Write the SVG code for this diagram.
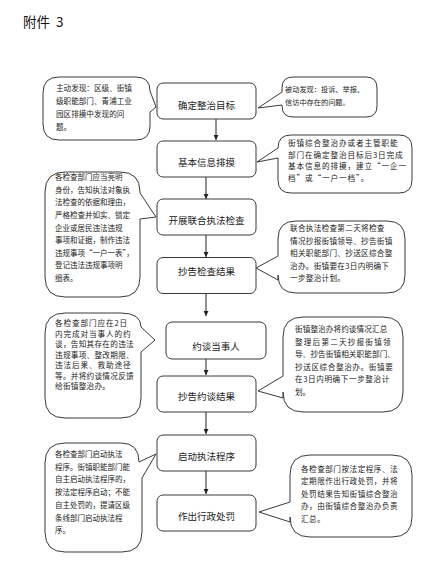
<svg xmlns="http://www.w3.org/2000/svg" width="442" height="580" viewBox="0 0 442 580">
<style>
.bg{fill:#fff}
.box{fill:#fff;stroke:#3a3a3a;stroke-width:1}
.bub{fill:#fff;stroke:#3a3a3a;stroke-width:1;stroke-linejoin:round}
.bt{font-family:"Noto Sans CJK SC","Liberation Sans",sans-serif;font-size:9.5px;fill:#222;text-anchor:middle}
.t{font-family:"Noto Sans CJK SC","Liberation Sans",sans-serif;font-size:7.6px;fill:#222}
.con{stroke:#222;stroke-width:1;fill:none;marker-end:url(#ah)}
.title{font-family:"Noto Sans CJK SC","Liberation Sans",sans-serif;font-size:13.5px;fill:#111}
</style>
<defs>
<marker id="ah" viewBox="0 0 8 8" refX="8" refY="4" markerWidth="5" markerHeight="5" orient="auto" markerUnits="userSpaceOnUse">
<path d="M0,0 L8,4 L0,8 Z" fill="#222"/>
</marker>
</defs>
<rect class="bg" x="0" y="0" width="442" height="580"/>
<text class="title" x="23" y="27">附件 <tspan dx="3">3</tspan></text>

<g id="connectors">
<line class="con" x1="216" y1="119" x2="216" y2="140"/>
<line class="con" x1="206" y1="177" x2="206" y2="199"/>
<line class="con" x1="206" y1="235" x2="206" y2="257"/>
<line class="con" x1="206" y1="293" x2="206" y2="316"/>
<line class="con" x1="206" y1="359" x2="206" y2="375"/>
<line class="con" x1="206" y1="412" x2="206" y2="434"/>
<line class="con" x1="206" y1="471" x2="206" y2="494"/>
</g>

<g id="n1"><rect class="box" x="157" y="83" width="99" height="36" rx="6"/><text class="bt" x="206.5" y="108.5">确定整治目标</text></g>
<g id="n2"><rect class="box" x="157" y="141" width="99" height="36" rx="6"/><text class="bt" x="206.5" y="165.5">基本信息排摸</text></g>
<g id="n3"><rect class="box" x="157" y="199" width="99" height="36" rx="6"/><text class="bt" x="206.5" y="224">开展联合执法检查</text></g>
<g id="n4"><rect class="box" x="157" y="257.5" width="99" height="36" rx="6"/><text class="bt" x="206.5" y="275">抄告检查结果</text></g>
<g id="n5"><rect class="box" x="166" y="322" width="100" height="37" rx="6"/><text class="bt" x="216" y="349.5">约谈当事人</text></g>
<g id="n6"><rect class="box" x="157" y="376" width="99" height="36" rx="6"/><text class="bt" x="206.5" y="400">抄告约谈结果</text></g>
<g id="n7"><rect class="box" x="157" y="435" width="99" height="36" rx="6"/><text class="bt" x="206.5" y="460">启动执法程序</text></g>
<g id="n8"><rect class="box" x="157" y="495" width="99" height="36" rx="6"/><text class="bt" x="206.5" y="519.5">作出行政处罚</text></g>

<g id="c1">
<path class="bub" d="M59,77 H136 Q150,77 150,91 L156,107 L150,112 V126 Q150,140 136,140 H59 Q43,140 43,124 V93 Q43,77 59,77 Z"/>
<text class="t" x="56" y="91">主动发现：区级、街镇</text>
<text class="t" x="56" y="104">级职能部门、青浦工业</text>
<text class="t" x="56" y="117">园区排摸中发现的问</text>
<text class="t" x="56" y="129.5">题。</text>
</g>
<g id="c2">
<path class="bub" d="M293,77 H366 Q377,77 377,88 V106 Q377,117 366,117 H293 Q282,117 282,106 V105 L258,108 L282,92 V88 Q282,77 293,77 Z"/>
<text class="t" x="285" y="91.5" style="font-size:7.2px">被动发现：投诉、举报、</text>
<text class="t" x="285" y="104.5" style="font-size:7.2px">信访中存在的问题。</text>
</g>
<g id="c3">
<path class="bub" d="M291,135 H399 Q412,135 412,148 V180 Q412,193 399,193 H291 Q278,193 278,180 V158 L257,162 L278,148 Q278,135 291,135 Z"/>
<text class="t" x="288" y="146" style="letter-spacing:0.9px">街镇综合整治办或者主管职能</text>
<text class="t" x="288" y="157.5" style="letter-spacing:0.9px">部门在确定整治目标后3日完成</text>
<text class="t" x="288" y="169" style="letter-spacing:0.9px">基本信息的排摸，建立“一企一</text>
<text class="t" x="288" y="180.5" style="letter-spacing:0.9px">档”或“一户一档”。</text>
</g>
<g id="c4">
<path class="bub" d="M296,221 H387 Q405,221 405,239 V275 Q405,293 387,293 H296 Q278,293 278,275 V280 L256,268 L278,256 V239 Q278,221 296,221 Z"/>
<text class="t" x="290" y="231" style="letter-spacing:0.3px">联合执法检查第二天将检查</text>
<text class="t" x="290" y="243.5" style="letter-spacing:0.3px">情况抄报街镇领导、抄告街镇</text>
<text class="t" x="290" y="256" style="letter-spacing:0.3px">相关职能部门、抄送区综合整</text>
<text class="t" x="290" y="268.5" style="letter-spacing:0.3px">治办。街镇要在3日内明确下</text>
<text class="t" x="290" y="281" style="letter-spacing:0.3px">一步整治计划。</text>
</g>
<g id="c5">
<path class="bub" d="M65,172 H120 Q140,172 140,192 V193 L156,217 L140,219 V277 Q140,297 120,297 H65 Q45,297 45,277 V192 Q45,172 65,172 Z"/>
<text class="t" x="55" y="180" style="font-size:7.5px">各检查部门应当亮明</text>
<text class="t" x="55" y="192.5" style="font-size:7.5px">身份，告知执法对象执</text>
<text class="t" x="55" y="205" style="font-size:7.5px">法检查的依据和理由，</text>
<text class="t" x="55" y="217.5" style="font-size:7.5px">严格检查并如实、锁定</text>
<text class="t" x="55" y="230.5" style="font-size:7.5px">企业或居民违法违规</text>
<text class="t" x="55" y="243" style="font-size:7.5px">事项和证据，制作违法</text>
<text class="t" x="55" y="255.5" style="font-size:7.5px">违规事项“一户一表”，</text>
<text class="t" x="55" y="268" style="font-size:7.5px">登记违法违规事项明</text>
<text class="t" x="55" y="280.5" style="font-size:7.5px">细表。</text>
</g>
<g id="c6">
<path class="bub" d="M65,313 H121 Q141,313 141,327 L155,340 L141,352 V398 Q141,418 121,418 H65 Q45,418 45,398 V333 Q45,313 65,313 Z"/>
<text class="t" x="55" y="326" style="letter-spacing:0.9px">各检查部门应在2日</text>
<text class="t" x="55" y="336.5" style="letter-spacing:0.9px">内完成对当事人的约</text>
<text class="t" x="55" y="347" style="letter-spacing:0.3px">谈，告知其存在的违法</text>
<text class="t" x="55" y="357.5" style="letter-spacing:0.3px">违规事项、整改期限、</text>
<text class="t" x="55" y="368" style="letter-spacing:0.9px">违法后果、救助途径</text>
<text class="t" x="55" y="378.5" style="letter-spacing:0.3px">等。并将约谈情况反馈</text>
<text class="t" x="55" y="389" style="letter-spacing:0.3px">给街镇整治办。</text>
</g>
<g id="c7">
<path class="bub" d="M303,317 H383 Q403,317 403,337 V392 Q403,412 383,412 H303 Q283,412 283,392 V398 L258,391 L283,376 V337 Q283,317 303,317 Z"/>
<text class="t" x="295" y="332" style="letter-spacing:0.1px">街镇整治办将约谈情况汇总</text>
<text class="t" x="295" y="344.5" style="letter-spacing:1.2px">整理后第二天抄报街镇领</text>
<text class="t" x="295" y="357" style="letter-spacing:0.1px">导、抄告街镇相关职能部门、</text>
<text class="t" x="295" y="369.5" style="letter-spacing:0.6px">抄送区综合整治办。街镇要</text>
<text class="t" x="295" y="382" style="letter-spacing:0.6px">在3日内明确下一步整治计</text>
<text class="t" x="295" y="395">划。</text>
</g>
<g id="c8">
<path class="bub" d="M65,443 H121 Q139,443 139,462 L156,454 L142,478 V532 Q142,552 122,552 H65 Q45,552 45,532 V463 Q45,443 65,443 Z"/>
<text class="t" x="55" y="457" style="font-size:7.5px">各检查部门启动执法</text>
<text class="t" x="55" y="469.5" style="font-size:7.5px">程序。街镇职能部门能</text>
<text class="t" x="55" y="482" style="font-size:7.5px">自主启动执法程序的，</text>
<text class="t" x="55" y="495" style="font-size:7.5px">按法定程序启动；不能</text>
<text class="t" x="55" y="508" style="font-size:7.5px">自主处罚的，提请区级</text>
<text class="t" x="55" y="520.5" style="font-size:7.5px">条线部门启动执法程</text>
<text class="t" x="55" y="533" style="font-size:7.5px">序。</text>
</g>
<g id="c9">
<path class="bub" d="M310,455 H392 Q412,455 412,475 V517 Q412,537 392,537 H310 Q290,537 290,517 V522 L259,512 L290,502 V475 Q290,455 310,455 Z"/>
<text class="t" x="301" y="471.5" style="letter-spacing:0.5px">各检查部门按法定程序、法</text>
<text class="t" x="301" y="484" style="letter-spacing:0.5px">定期限作出行政处罚，并将</text>
<text class="t" x="301" y="496.5" style="letter-spacing:0.5px">处罚结果告知街镇综合整治</text>
<text class="t" x="301" y="509" style="letter-spacing:0.5px">办，由街镇综合整治办负责</text>
<text class="t" x="301" y="521.5" style="letter-spacing:0.5px">汇总。</text>
</g>
</svg>
